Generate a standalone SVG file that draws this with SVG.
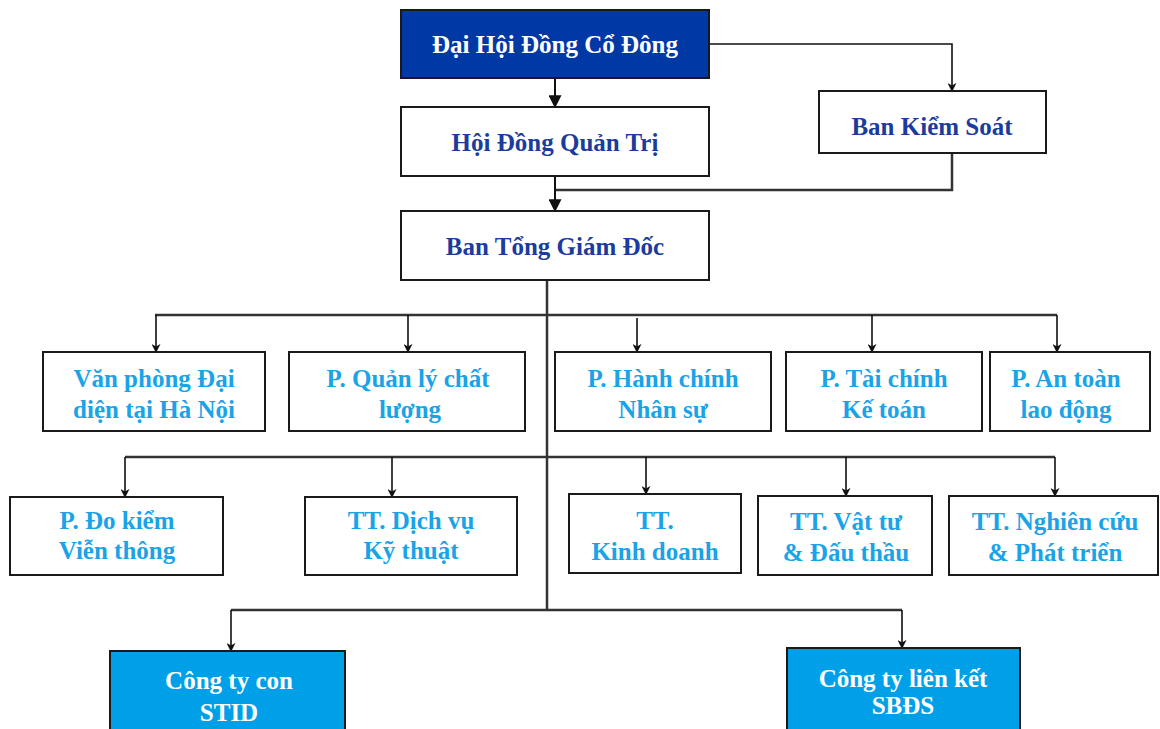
<svg xmlns="http://www.w3.org/2000/svg" width="1160" height="729" viewBox="0 0 1160 729">
<defs>
<style>
.box{fill:#fff;stroke:#1a1a1a;stroke-width:2}
.dark{fill:#0039A6;stroke:#1a1a1a;stroke-width:2}
.sub{fill:#00A0E8;stroke:#1a1a1a;stroke-width:2}
text{font-family:"Liberation Serif","Times New Roman",serif;font-weight:bold;text-anchor:middle}
.tw{fill:#fff;font-size:25px}
.tn{fill:#1B3C9E;font-size:25px}
.tl{fill:#1BA3E8;font-size:25px}
.line{fill:none;stroke:#333;stroke-width:2.5}
.arr{fill:none;stroke:#111;stroke-width:1.6;marker-end:url(#sm)}
.arrB{fill:none;stroke:#111;stroke-width:2;marker-end:url(#big)}
</style>
<marker id="sm" viewBox="0 0 10 10" refX="9" refY="5" markerWidth="9" markerHeight="9" markerUnits="userSpaceOnUse" orient="auto">
<path d="M0,0 L10,5 L0,10 L3,5 Z" fill="#111"/>
</marker>
<marker id="big" viewBox="0 0 10 10" refX="9" refY="5" markerWidth="14" markerHeight="13" markerUnits="userSpaceOnUse" orient="auto">
<path d="M0,0 L10,5 L0,10 Z" fill="#111"/>
</marker>
</defs>
<rect width="1160" height="729" fill="#fff"/>
<g id="connectors">
<path class="arrB" d="M555,78 V107"/>
<path class="arr" d="M709,44 H952 V91"/>
<path class="line" d="M952,153 V190 H555"/>
<path class="arrB" d="M555,176 V211"/>
<path class="line" d="M547,280 V610"/>
<path class="line" d="M155,315 H1057"/>
<path class="arr" d="M156,315 V352"/>
<path class="arr" d="M408,315 V352"/>
<path class="arr" d="M637,318 V352"/>
<path class="arr" d="M872,315 V352"/>
<path class="arr" d="M1057,315 V352"/>
<path class="line" d="M125,457 H1055"/>
<path class="arr" d="M125,457 V497"/>
<path class="arr" d="M392,457 V497"/>
<path class="arr" d="M646,457 V494"/>
<path class="arr" d="M846,457 V496"/>
<path class="arr" d="M1055,457 V496"/>
<path class="line" d="M231,610 H902"/>
<path class="arr" d="M231,610 V651"/>
<path class="arr" d="M902,610 V648"/>
</g>
<g id="n-dhdcd"><rect class="dark" x="401" y="10" width="308" height="68"/><text class="tw" x="555" y="53">Đại Hội Đồng Cổ Đông</text></g>
<g id="n-hdqt"><rect class="box" x="401" y="107" width="308" height="69"/><text class="tn" x="555" y="151">Hội Đồng Quản Trị</text></g>
<g id="n-bks"><rect class="box" x="819" y="91" width="227" height="62"/><text class="tn" x="932" y="135">Ban Kiểm Soát</text></g>
<g id="n-btgd"><rect class="box" x="401" y="211" width="308" height="69"/><text class="tn" x="555" y="255">Ban Tổng Giám Đốc</text></g>
<g id="n-vpdd"><rect class="box" x="43" y="352" width="222" height="79"/><text class="tl" x="154" y="387">Văn phòng Đại</text><text class="tl" x="154" y="418">diện tại Hà Nội</text></g>
<g id="n-qlcl"><rect class="box" x="289" y="352" width="236" height="79"/><text class="tl" x="408" y="387">P. Quản lý chất</text><text class="tl" x="410" y="418">lượng</text></g>
<g id="n-hcns"><rect class="box" x="555" y="352" width="216" height="79"/><text class="tl" x="663" y="387">P. Hành chính</text><text class="tl" x="663" y="418">Nhân sự</text></g>
<g id="n-tckt"><rect class="box" x="786" y="352" width="196" height="79"/><text class="tl" x="884" y="387">P. Tài chính</text><text class="tl" x="884" y="418">Kế toán</text></g>
<g id="n-atld"><rect class="box" x="990" y="352" width="160" height="79"/><text class="tl" x="1066" y="387">P. An toàn</text><text class="tl" x="1066" y="418">lao động</text></g>
<g id="n-dkvt"><rect class="box" x="10" y="497" width="213" height="78"/><text class="tl" x="117" y="529">P. Đo kiểm</text><text class="tl" x="117" y="559">Viễn thông</text></g>
<g id="n-dvkt"><rect class="box" x="305" y="497" width="212" height="78"/><text class="tl" x="411" y="529">TT. Dịch vụ</text><text class="tl" x="411" y="559">Kỹ thuật</text></g>
<g id="n-kd"><rect class="box" x="569" y="494" width="172" height="79"/><text class="tl" x="655" y="529">TT.</text><text class="tl" x="655" y="560">Kinh doanh</text></g>
<g id="n-vtdt"><rect class="box" x="758" y="496" width="174" height="79"/><text class="tl" x="846" y="530">TT. Vật tư</text><text class="tl" x="846" y="561">&amp; Đấu thầu</text></g>
<g id="n-nc"><rect class="box" x="949" y="496" width="209" height="79"/><text class="tl" x="1055" y="530">TT. Nghiên cứu</text><text class="tl" x="1055" y="561">&amp; Phát triển</text></g>
<g id="n-stid"><rect class="sub" x="110" y="651" width="235" height="80"/><text class="tw" x="229" y="689">Công ty con</text><text class="tw" x="229" y="721">STID</text></g>
<g id="n-sbds"><rect class="sub" x="787" y="648" width="233" height="83"/><text class="tw" x="903" y="687">Công ty liên kết</text><text class="tw" x="903" y="714">SBĐS</text></g>
</svg>
